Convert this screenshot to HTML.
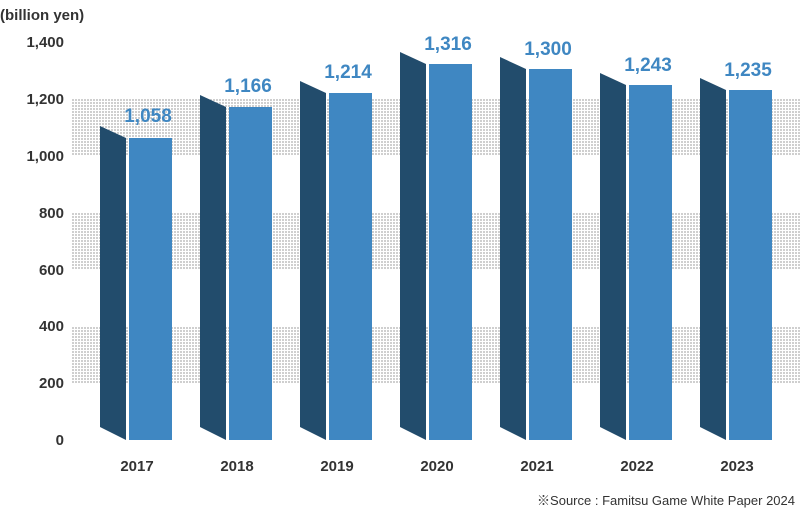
<!DOCTYPE html>
<html><head><meta charset="utf-8"><style>
body{margin:0;background:#fff;}
svg text{font-family:"Liberation Sans","Noto Sans CJK JP",sans-serif;}
</style></head><body>
<svg width="800" height="510" xmlns="http://www.w3.org/2000/svg">
<defs><pattern id="d" width="3" height="3" patternUnits="userSpaceOnUse"><rect width="2" height="2" fill="#cfcfcf"/></pattern></defs>
<rect x="71" y="99" width="729" height="57" fill="url(#d)"/>
<rect x="71" y="213" width="729" height="57" fill="url(#d)"/>
<rect x="71" y="326" width="729" height="57" fill="url(#d)"/>
<g font-size="15" font-weight="bold" fill="#333" text-anchor="end">
<text x="64" y="47">1,400</text><text x="64" y="104">1,200</text><text x="64" y="161">1,000</text>
<text x="64" y="218">800</text><text x="64" y="275">600</text><text x="64" y="331">400</text>
<text x="64" y="388">200</text><text x="64" y="445">0</text>
</g>
<text x="0" y="20" font-size="15" font-weight="bold" fill="#333">(billion yen)</text>
<g id="bars"></g>
<g font-size="15" font-weight="bold" fill="#333" text-anchor="middle">
<text x="137" y="471">2017</text><text x="237" y="471">2018</text><text x="337" y="471">2019</text>
<text x="437" y="471">2020</text><text x="537" y="471">2021</text><text x="637" y="471">2022</text><text x="737" y="471">2023</text>
</g>
<text x="795" y="505" font-size="13" fill="#333" text-anchor="end">※Source : Famitsu Game White Paper 2024</text>
<!-- bars -->
<g>
<polygon points="100,126 126,138 126,440 100,427" fill="#224c6c"/><rect x="129" y="138" width="43" height="302" fill="#3f87c2"/>
<polygon points="200,95 226,107 226,440 200,427" fill="#224c6c"/><rect x="229" y="107" width="43" height="333" fill="#3f87c2"/>
<polygon points="300,81 326,93 326,440 300,427" fill="#224c6c"/><rect x="329" y="93" width="43" height="347" fill="#3f87c2"/>
<polygon points="400,52 426,64 426,440 400,427" fill="#224c6c"/><rect x="429" y="64" width="43" height="376" fill="#3f87c2"/>
<polygon points="500,57 526,69 526,440 500,427" fill="#224c6c"/><rect x="529" y="69" width="43" height="371" fill="#3f87c2"/>
<polygon points="600,73 626,85 626,440 600,427" fill="#224c6c"/><rect x="629" y="85" width="43" height="355" fill="#3f87c2"/>
<polygon points="700,78 726,90 726,440 700,427" fill="#224c6c"/><rect x="729" y="90" width="43" height="350" fill="#3f87c2"/>
</g>
<g font-size="19" font-weight="bold" fill="#3f87c2" text-anchor="middle">
<text x="148" y="122">1,058</text><text x="248" y="92">1,166</text><text x="348" y="78">1,214</text>
<text x="448" y="50">1,316</text><text x="548" y="55">1,300</text><text x="648" y="71">1,243</text><text x="748" y="76">1,235</text>
</g>
</svg>
</body></html>
